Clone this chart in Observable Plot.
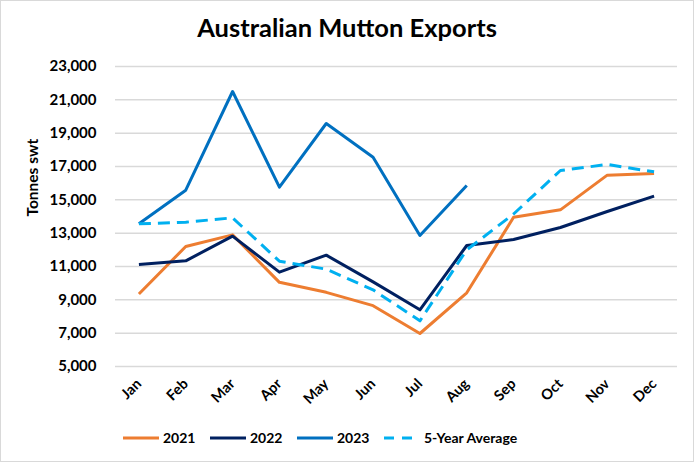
<!DOCTYPE html>
<html>
<head>
<meta charset="utf-8">
<script src="https://cdn.jsdelivr.net/npm/d3@7"></script>
<script src="https://cdn.jsdelivr.net/npm/@observablehq/plot@0.6"></script>
<style>
  html, body { margin: 0; padding: 0; background: #fff; }
  body { font-family: Lato, "Liberation Sans", sans-serif; }
  #wrap { position: relative; width: 692px; height: 460px; border: 1px solid #d9d9d9; background: #fff; overflow: hidden; }
  #title { position: absolute; left: 0; top: 10px; width: 692px; text-align: center; font-size: 25.5px; font-weight: 700; color: #000; line-height: 32px; }
  #chart { position: absolute; left: 0; top: 49px; }
  #legend { position: absolute; left: 122px; top: 427px; display: flex; align-items: center; font-size: 14px; font-weight: 700; color: #000; line-height: 20px; white-space: nowrap; }
  .item { display: flex; align-items: center; width: 87px; flex: none; }
  .item:last-child { width: auto; }
  .item svg { margin-right: 4px; flex: none; }
</style>
</head>
<body>
<div id="wrap">
  <div id="title">Australian Mutton Exports</div>
  <div id="chart"></div>
  <div id="legend"></div>
</div>
<script>
const months = ["Jan","Feb","Mar","Apr","May","Jun","Jul","Aug","Sep","Oct","Nov","Dec"];
const seriesNames = ["2021", "2022", "2023", "5-Year Average"];
const values2021 = [9350, 12200, 12900, 10050, 9450, 8650, 6980, 9420, 13950, 14400, 16480, 16580];
const values2022 = [11120, 11340, 12820, 10660, 11680, 10080, 8400, 12260, 12620, 13340, 14300, 15220];
const values2023 = [13560, 15580, 21500, 15760, 19580, 17560, 12860, 15860];
const values5yr = [13560, 13660, 13920, 11320, 10840, 9600, 7740, 12000, 14150, 16760, 17120, 16680];
const yTicks = [5000, 7000, 9000, 11000, 13000, 15000, 17000, 19000, 21000, 23000];
const colors = ["#ED7D31", "#002060", "#0070C0", "#00B0F0"];
const dashes = [null, null, null, "12,7"];

const allSeries = [values2021, values2022, values2023, values5yr];
const rows = [];
allSeries.forEach((vals, si) => vals.forEach((v, i) => rows.push({series: seriesNames[si], month: months[i], value: v})));

const lineMarks = seriesNames.map((name, si) =>
  Plot.line(rows.filter(d => d.series === name), {
    x: "month", y: "value", stroke: colors[si], strokeWidth: 3,
    strokeDasharray: dashes[si] || undefined, strokeLinejoin: "round", strokeLinecap: "butt"
  })
);

const plot = Plot.plot({
  width: 692,
  height: 366,
  marginTop: 16,
  marginBottom: 50,
  marginLeft: 114,
  marginRight: 16,
  style: { fontFamily: "Lato, 'Liberation Sans', sans-serif", color: "#000", background: "transparent" },
  x: { type: "point", domain: months, padding: 0.5, round: false },
  y: { domain: [5000, 23000] },
  marks: [
    Plot.gridY(yTicks, { stroke: "#d9d9d9", strokeOpacity: 1, strokeWidth: 1.5 }),
    Plot.axisY(yTicks, { tickSize: 0, tickPadding: 19, tickFormat: d3.format(","), fontSize: 15, fontWeight: "bold", label: null }),
    Plot.axisX({ tickSize: 0, tickRotate: -45, tickPadding: 15, fontSize: 14.5, fontWeight: "bold", label: null }),
    Plot.text(["Tonnes swt"], { frameAnchor: "left", dx: -82, rotate: -90, fontSize: 15.5, fontWeight: "bold", fill: "#000" }),
    ...lineMarks
  ]
});
document.getElementById("chart").appendChild(plot);

const legend = document.getElementById("legend");
seriesNames.forEach((name, si) => {
  const item = document.createElement("div");
  item.className = "item";
  const dash = dashes[si] ? `stroke-dasharray="10,8" ` : "";
  item.innerHTML = `<svg width="36" height="6"><line x1="0" x2="36" y1="3" y2="3" stroke="${colors[si]}" stroke-width="3" ${dash}/></svg><span>${name}</span>`;
  legend.appendChild(item);
});
</script>
</body>
</html>
